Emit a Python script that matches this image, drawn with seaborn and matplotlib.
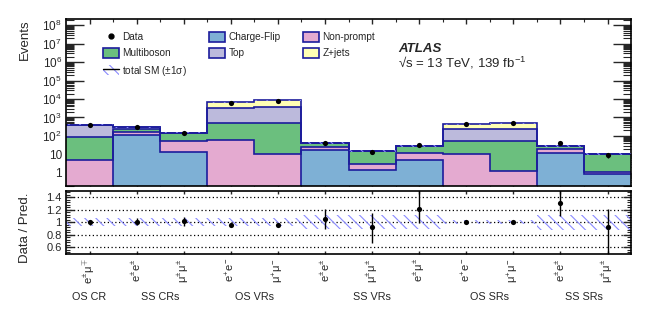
import numpy as np
import matplotlib
matplotlib.use("Agg")
import matplotlib.pyplot as plt
import seaborn as sns
from matplotlib.ticker import FixedLocator, LogLocator, NullFormatter, FuncFormatter, MultipleLocator
from matplotlib.patches import Patch
from matplotlib.lines import Line2D

# ---------------- data ----------------
tick_labels = [r"$e^{\pm}\mu^{\mp}$", r"$e^{\pm}e^{\pm}$", r"$\mu^{\pm}\mu^{\pm}$",
               r"$e^{+}e^{-}$", r"$\mu^{+}\mu^{-}$",
               r"$e^{\pm}e^{\pm}$", r"$\mu^{\pm}\mu^{\pm}$", r"$e^{\pm}\mu^{\pm}$",
               r"$e^{+}e^{-}$", r"$\mu^{+}\mu^{-}$",
               r"$e^{\pm}e^{\pm}$", r"$\mu^{\pm}\mu^{\pm}$"]
group_names = ["OS CR", "SS CRs", "OS VRs", "SS VRs", "OS SRs", "SS SRs"]
group_bins = [[0], [1, 2], [3, 4], [5, 6, 7], [8, 9], [10, 11]]

bkg_names = ["Charge-Flip", "Non-prompt", "Multiboson", "Top", "Z+jets"]
charge_flip = [0, 115, 13, 0, 0, 17, 1.35, 4.9, 0, 0, 11.3, 0.82]
non_prompt = [4.9, 50, 42, 60, 10, 9, 1.5, 6.4, 10, 1.3, 8, 0.3]
multiboson = [78, 75, 95, 440, 470, 14, 12.2, 16.7, 45, 54, 10, 8.9]
top_quark = [323, 50, 3, 2650, 3080, 1, 0.2, 0.5, 172, 181, 0.5, 0.1]
z_jets = [5, 3, 0, 3400, 5040, 0, 0, 0, 198, 244, 0, 0]

data_counts = [400, 290, 150, 6200, 8200, 42, 14, 34, 425, 490, 39, 9.4]
ratio = [1.0, 1.01, 1.015, 0.947, 0.952, 1.048, 0.915, 1.213, 1.0, 1.0, 1.315, 0.92]
ratio_err_lo = [0.04, 0.05, 0.075, 0.01, 0.01, 0.16, 0.25, 0.22, 0.02, 0.02, 0.21, 0.45]
ratio_err_hi = [0.04, 0.05, 0.075, 0.01, 0.01, 0.16, 0.23, 0.30, 0.02, 0.02, 0.25, 0.29]
sm_rel_unc = [0.06, 0.06, 0.06, 0.06, 0.06, 0.11, 0.11, 0.11, 0.035, 0.035, 0.12, 0.12]

# ---------------- style ----------------
sns.set_theme(style="ticks")
plt.rcParams["font.family"] = ["Liberation Sans", "DejaVu Sans"]
plt.rcParams["mathtext.fontset"] = "custom"
plt.rcParams["mathtext.rm"] = "Liberation Sans"
plt.rcParams["mathtext.it"] = "Liberation Sans"
plt.rcParams["mathtext.bf"] = "Liberation Sans:bold"
plt.rcParams["mathtext.sf"] = "Liberation Sans"
plt.rcParams["hatch.linewidth"] = 0.8

colors = ["#7eb0d5", "#e4aad0", "#6bbf7e", "#bcbadc", "#ffffb4"]
line_col = "#1c1c9c"
hatch_col = "#8a8aff"

fig = plt.figure(figsize=(6.64, 3.18), dpi=100)
ax = fig.add_axes([0.0994, 0.415, 0.851, 0.525])
rax = fig.add_axes([0.0994, 0.2013, 0.851, 0.1981])

n = len(tick_labels)
edges = np.arange(n + 1, dtype=float)
centers = edges[:-1] + 0.5

# ---------------- stack ----------------
bkg_values = [charge_flip, non_prompt, multiboson, top_quark, z_jets]
bottom = np.full(n, 1e-3)
for vals, col in zip(bkg_values, colors):
    top = bottom + np.asarray(vals, dtype=float)
    ax.stairs(top, edges, baseline=bottom, fill=True, facecolor=col, edgecolor="none", zorder=1)
    bottom = top
bottom = np.full(n, 1e-3)
for vals in bkg_values:
    top = bottom + np.asarray(vals, dtype=float)
    ax.stairs(top, edges, baseline=None, color=line_col, lw=1.2, zorder=2)
    bottom = top
total = bottom

unc = np.asarray(sm_rel_unc)
xs = edges
ax.fill_between(xs, np.append(total * (1 - unc), total[-1] * (1 - unc[-1])),
                np.append(total * (1 + unc), total[-1] * (1 + unc[-1])),
                step="post", facecolor="none", edgecolor=hatch_col, hatch="\\" * 3, lw=0, zorder=3)

d = np.asarray(data_counts, dtype=float)
ax.errorbar(centers, d, yerr=np.sqrt(d), fmt="none", ecolor="black", lw=1, zorder=4)
sns.scatterplot(x=centers, y=d, ax=ax, color="black", s=14, edgecolor="black", linewidth=0, zorder=5, legend=False)

ax.set_yscale("log")
ax.set_xlim(0, n)
ax.set_ylim(0.19, 2.2e8)
ax.yaxis.set_major_locator(FixedLocator([10.0 ** k for k in range(0, 9)]))
ax.yaxis.set_major_formatter(FuncFormatter(lambda v, p: "1" if v < 5 else ("10" if v < 50 else r"$10^{%d}$" % round(np.log10(v)))))
ax.yaxis.set_minor_locator(LogLocator(base=10, subs=np.arange(2, 10), numticks=50))
ax.yaxis.set_minor_formatter(NullFormatter())
ax.xaxis.set_major_locator(FixedLocator(centers))
ax.xaxis.set_minor_locator(FixedLocator(edges[1:-1]))
ax.tick_params(axis="y", which="major", direction="in", length=13, width=1, left=True, right=True, labelsize=8.5, pad=3)
ax.tick_params(axis="y", which="minor", direction="in", length=6, width=0.8, left=True, right=True)
ax.tick_params(axis="x", which="major", direction="in", length=3.6, width=1, top=True, bottom=True, labelbottom=False)
ax.tick_params(axis="x", which="minor", direction="in", length=2, width=0.8, top=True, bottom=True)
ax.set_ylabel("Events", fontsize=9.5, loc="top")
ax.yaxis.set_label_coords(-0.062, 1.0)

# ---------------- legend ----------------
h_data = Line2D([], [], marker="o", color="black", ls="none", markersize=3.5)
def bpatch(c):
    return Patch(facecolor=c, edgecolor=line_col, lw=1.2)
h_sm = (Patch(facecolor="none", edgecolor=hatch_col, hatch="\\" * 3, lw=0), Line2D([], [], color="black", lw=1))
handles = [h_data, bpatch(colors[2]), h_sm, bpatch(colors[0]), bpatch(colors[3]), bpatch(colors[1]), bpatch(colors[4])]
labels = ["Data", "Multiboson", r"total SM ($\pm$1$\sigma$)", "Charge-Flip", "Top", "Non-prompt", "Z+jets"]
ax.legend(handles, labels, ncol=3, loc="upper left", bbox_to_anchor=(0.065, 0.925), frameon=False,
          fontsize=7.2, handlelength=1.6, handleheight=1.2, handletextpad=0.35, columnspacing=2.2,
          labelspacing=0.55, borderpad=0, borderaxespad=0)

fig.text(398 / 664, 1 - 52.0 / 318, "ATLAS", fontsize=9.5, fontweight="bold", fontstyle="italic", ha="left", va="baseline")
fig.text(398 / 664, 1 - 67.0 / 318, "\u221As = 13 TeV, 139 fb$^{-1}$", fontsize=9.5, ha="left", va="baseline")

# ---------------- ratio ----------------
rax.fill_between(xs, np.append(1 - unc, 1 - unc[-1]), np.append(1 + unc, 1 + unc[-1]),
                 step="post", facecolor="none", edgecolor=hatch_col, hatch="\\" * 3, lw=0, zorder=2)
r = np.asarray(ratio)
rax.errorbar(centers, r, yerr=[ratio_err_lo, ratio_err_hi], fmt="none", ecolor="black", lw=1, zorder=4)
sns.scatterplot(x=centers, y=r, ax=rax, color="black", s=14, edgecolor="black", linewidth=0, zorder=5, legend=False)
rax.set_xlim(0, n)
rax.set_ylim(0.49, 1.5)
rax.yaxis.set_major_locator(FixedLocator([0.6, 0.8, 1.0, 1.2, 1.4]))
rax.yaxis.set_major_formatter(FuncFormatter(lambda v, p: ("%g" % v)))
rax.yaxis.set_minor_locator(MultipleLocator(0.04))
rax.yaxis.grid(True, which="major", linestyle=(0, (1, 2)), color="black", lw=0.9)
rax.set_xticks(centers, tick_labels, rotation=90, fontsize=8)
rax.tick_params(axis="y", which="major", direction="in", length=6, width=1, left=True, right=True, labelsize=8, pad=3)
rax.tick_params(axis="y", which="minor", direction="in", length=3, width=0.8, left=True, right=True)
rax.tick_params(axis="x", which="major", direction="in", length=2.5, width=1, top=True, bottom=True, pad=3)
rax.set_ylabel("Data / Pred.", fontsize=9.5, loc="top")
rax.yaxis.set_label_coords(-0.062, 0.97)

for gname, bins in zip(group_names, group_bins):
    gx = np.mean(centers[bins])
    rax.text(gx, -0.68, gname, transform=rax.get_xaxis_transform(), ha="center", va="center", fontsize=7.8)

for a in (ax, rax):
    for s in a.spines.values():
        s.set_linewidth(1.2)
        s.set_color("black")

fig.savefig("out.png", dpi=100)
